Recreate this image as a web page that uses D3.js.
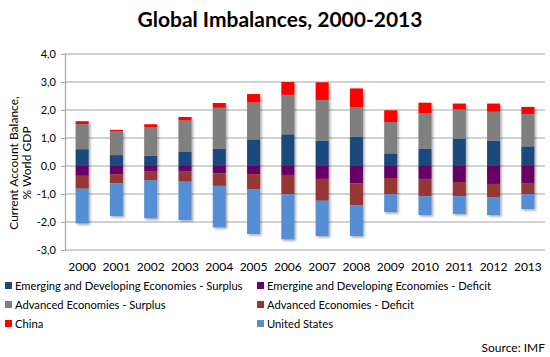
<!DOCTYPE html>
<html><head><meta charset="utf-8">
<script src="https://cdn.jsdelivr.net/npm/d3@7"></script>
<style>
body{margin:0;background:#fff;}
text{font-family:Lato,"Open Sans",sans-serif;fill:#000;}
</style></head>
<body><svg id="c" width="550" height="357"></svg>
<script>
const years = ["2000","2001","2002","2003","2004","2005","2006","2007","2008","2009","2010","2011","2012","2013"];
const emSurplus  = [0.60,0.39,0.37,0.50,0.62,0.95,1.13,0.90,1.05,0.45,0.61,0.98,0.90,0.70];
const advSurplus = [0.90,0.84,1.01,1.13,1.46,1.32,1.41,1.46,1.05,1.12,1.28,1.04,1.04,1.16];
const china      = [0.10,0.06,0.11,0.12,0.17,0.30,0.46,0.63,0.67,0.42,0.37,0.21,0.29,0.25];
const emDeficit  = [-0.35,-0.29,-0.20,-0.20,-0.26,-0.29,-0.32,-0.46,-0.62,-0.43,-0.46,-0.57,-0.64,-0.63];
const advDeficit = [-0.46,-0.33,-0.32,-0.36,-0.45,-0.54,-0.69,-0.78,-0.78,-0.58,-0.62,-0.51,-0.48,-0.37];
const us         = [-1.24,-1.17,-1.35,-1.37,-1.48,-1.60,-1.61,-1.26,-1.10,-0.64,-0.67,-0.63,-0.63,-0.54];
const yTicks = [-3,-2,-1,0,1,2,3,4];

const series = [
  {key:"emS", name:"Emerging and Developing Economies - Surplus", values:emSurplus, color:"#1F497D"},
  {key:"emD", name:"Emergine and Developing Economies - Deficit", values:emDeficit, color:"#660066"},
  {key:"advS", name:"Advanced Economies - Surplus", values:advSurplus, color:"#7F7F7F"},
  {key:"advD", name:"Advanced Economies - Deficit", values:advDeficit, color:"#953735"},
  {key:"china", name:"China", values:china, color:"#FF0000"},
  {key:"us", name:"United States", values:us, color:"#558ED5"}
];
const stackOrder = ["emS","advS","china","emD","advD","us"];

const rows = years.map((y,i)=>{const o={year:y}; series.forEach(s=>o[s.key]=s.values[i]); return o;});
const stacked = d3.stack().keys(stackOrder).offset(d3.stackOffsetDiverging)(rows);
const colorOf = Object.fromEntries(series.map(s=>[s.key,s.color]));

const svg = d3.select("#c");
const x = d3.scaleBand().domain(years).range([65,545]).paddingInner(0.62).paddingOuter(0.31);
const y = d3.scaleLinear().domain([-3,4]).range([250,54]);

const defs = svg.append("defs");
const f = defs.append("filter").attr("id","sh").attr("x","-20%").attr("y","-20%").attr("width","150%").attr("height","150%");
f.append("feDropShadow").attr("dx",1.5).attr("dy",1.5).attr("stdDeviation",0.8).attr("flood-color","#000").attr("flood-opacity",0.35);

svg.append("text").attr("x",280).attr("y",27).attr("text-anchor","middle")
  .style("font-size","21px").style("font-weight","bold").text("Global Imbalances, 2000-2013");

svg.append("g").selectAll("line").data(yTicks).join("line")
  .attr("x1",65).attr("x2",545).attr("y1",d=>y(d)).attr("y2",d=>y(d))
  .attr("stroke","#A6A6A6").attr("stroke-width",1.2);

const yAxis = d3.axisLeft(y).tickValues(yTicks).tickSize(4).tickPadding(5)
  .tickFormat(d=>d3.format(".1f")(d).replace(".",",").replace("−","-"));
const ga = svg.append("g").attr("transform","translate(65,0)").call(yAxis);
ga.select(".domain").attr("stroke","#A6A6A6").attr("stroke-width",1.2);
ga.selectAll(".tick line").attr("stroke","#A6A6A6");
ga.selectAll("text").style("font-size","11px").attr("fill","#000").style("font-family","Lato,sans-serif");

const yl = svg.append("text").attr("transform","translate(0,163) rotate(-90)").attr("text-anchor","middle")
  .style("font-size","12px");
yl.append("tspan").attr("x",0).attr("y",18).text("Current Account Balance,");
yl.append("tspan").attr("x",0).attr("y",31).text("% World GDP");

svg.append("g").attr("filter","url(#sh)").selectAll("g").data(stacked).join("g")
  .attr("fill",d=>colorOf[d.key])
  .selectAll("rect").data(d=>d).join("rect")
  .attr("x",d=>x(d.data.year)).attr("width",x.bandwidth())
  .attr("y",d=>y(Math.max(d[0],d[1]))).attr("height",d=>Math.abs(y(d[0])-y(d[1])));

const xAxis = d3.axisBottom(x).tickSize(0).tickPadding(0);
const gx = svg.append("g").attr("transform","translate(0,262)").call(xAxis);
gx.select(".domain").remove();
gx.selectAll("text").style("font-size","12px").attr("fill","#000").style("font-family","Lato,sans-serif");

const legendItems = series.map((s,i)=>({...s, col:i%2, row:Math.floor(i/2)}));
const lg = svg.append("g").selectAll("g").data(legendItems).join("g")
  .attr("transform",d=>`translate(${d.col?257:5},${286+d.row*19})`);
lg.append("rect").attr("x",0).attr("y",-4).attr("width",7).attr("height",7).attr("fill",d=>d.color);
lg.append("text").attr("x",10).attr("y",4).style("font-size","11.2px").text(d=>d.name);

svg.append("text").attr("x",545).attr("y",352).attr("text-anchor","end").style("font-size","12px").text("Source: IMF");
</script></body></html>
